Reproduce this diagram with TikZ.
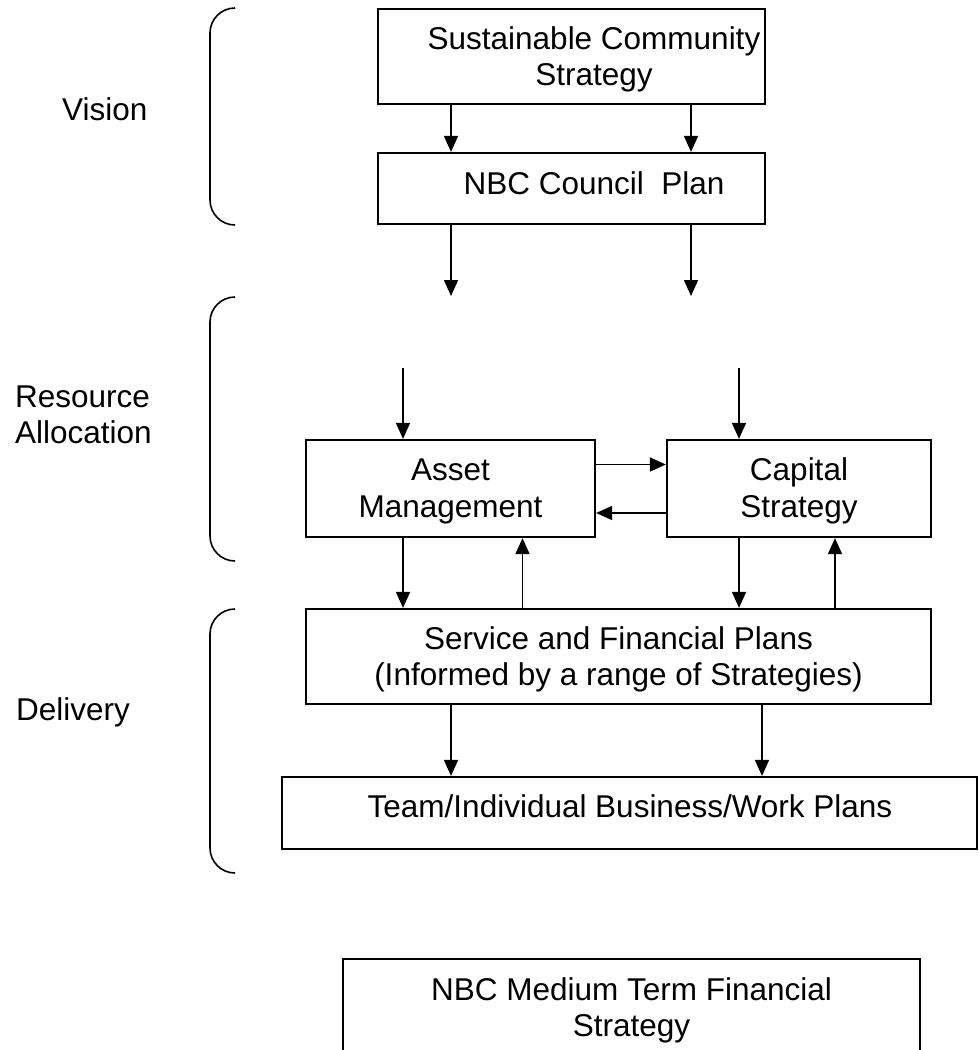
\documentclass[tikz,border=0pt]{standalone}
\usepackage{fontspec}
\setmainfont{Liberation Sans}
\usetikzlibrary{arrows.meta}
\begin{document}
\begin{tikzpicture}[x=1pt,y=-1pt,
  box/.style={draw, line width=2.2pt, inner sep=0pt},
  txt/.style={inner sep=0pt, align=center, font=\fontsize{31.5}{36.7}\selectfont},
  lbl/.style={inner sep=0pt, align=left, font=\fontsize{31.5}{36.7}\selectfont},
  arr/.style={line width=1.6pt, -{Triangle[length=16pt,width=14pt]}},
  brk/.style={line width=1.6pt, rounded corners=25pt}]
\useasboundingbox (0,0) rectangle (978,1050);
\clip (0,0) rectangle (978,1050);

% boxes
\node[box, minimum width=387pt, minimum height=95pt] (scs) at (571.5,56.5) {};
\node[box, minimum width=387pt, minimum height=71pt] (nbc) at (571.5,188.5) {};
\node[box, minimum width=289pt, minimum height=97pt] (asset) at (450.5,488.5) {};
\node[box, minimum width=264pt, minimum height=97pt] (capital) at (799,488.5) {};
\node[box, minimum width=625pt, minimum height=95pt] (service) at (618.5,656.5) {};
\node[box, minimum width=695pt, minimum height=72pt] (team) at (629.5,813) {};
\node[box, minimum width=577pt, minimum height=130pt] (mtfs) at (631.5,1024) {};

% box texts (base anchor of a multi-line node = last line's baseline)
\node[txt, anchor=base] (scsT) at (594,85.7) {Sustainable Community\\Strategy};
\node[txt, anchor=base] (nbcT) at (594,194.5) {NBC Council\ \ Plan};
\node[txt, anchor=base] (assetT) at (450.5,517) {Asset\\Management};
\node[txt, anchor=base] (capT) at (799,517) {Capital\\Strategy};
\node[txt, anchor=base] (servT) at (618.5,685.7) {Service and Financial Plans\\(Informed by a range of Strategies)};
\node[txt, anchor=base] (teamT) at (630,817) {Team/Individual Business/Work Plans};
\node[txt, anchor=base] (mtfsT) at (631.5,1036.7) {NBC Medium Term Financial\\Strategy};

% side labels
\node[lbl, anchor=base west] (vision) at (62,120.7) {Vision};
\node[lbl, anchor=base west] (resource) at (15,443.7) {Resource\\Allocation};
\node[lbl, anchor=base west] (delivery) at (16,720) {Delivery};

% brackets
\draw[brk] (235,8) -- (210,8) -- (210,225) -- (235,225);
\draw[brk] (235,297) -- (210,297) -- (210,561) -- (235,561);
\draw[brk] (235,609) -- (210,609) -- (210,873) -- (235,873);

% column / row coordinates
\coordinate (c1) at (451,0);
\coordinate (c2) at (691,0);
\coordinate (k1) at (403,0);
\coordinate (k2) at (522.5,0);
\coordinate (k3) at (739,0);
\coordinate (k4) at (835,0);
\coordinate (m2) at (762,0);
\coordinate (r1) at (0,464.5);
\coordinate (r2) at (0,513);
\coordinate (e1) at (451,296);
\coordinate (e2) at (691,296);
\coordinate (s1) at (403,368);
\coordinate (s2) at (739,368);

% connectors
\draw[arr] (scs.south -| c1) -- (nbc.north -| c1);
\draw[arr] (scs.south -| c2) -- (nbc.north -| c2);
\draw[arr] (nbc.south -| c1) -- (e1);
\draw[arr] (nbc.south -| c2) -- (e2);
\draw[arr] (s1) -- (asset.north -| s1);
\draw[arr] (s2) -- (capital.north -| s2);
\draw[arr] (asset.east |- r1) -- (capital.west |- r1);
\draw[arr] (capital.west |- r2) -- (asset.east |- r2);
\draw[arr] (asset.south -| k1) -- (service.north -| k1);
\draw[arr] (service.north -| k2) -- (asset.south -| k2);
\draw[arr] (capital.south -| k3) -- (service.north -| k3);
\draw[arr] (service.north -| k4) -- (capital.south -| k4);
\draw[arr] (service.south -| c1) -- (team.north -| c1);
\draw[arr] (service.south -| m2) -- (team.north -| m2);
\end{tikzpicture}
\end{document}
